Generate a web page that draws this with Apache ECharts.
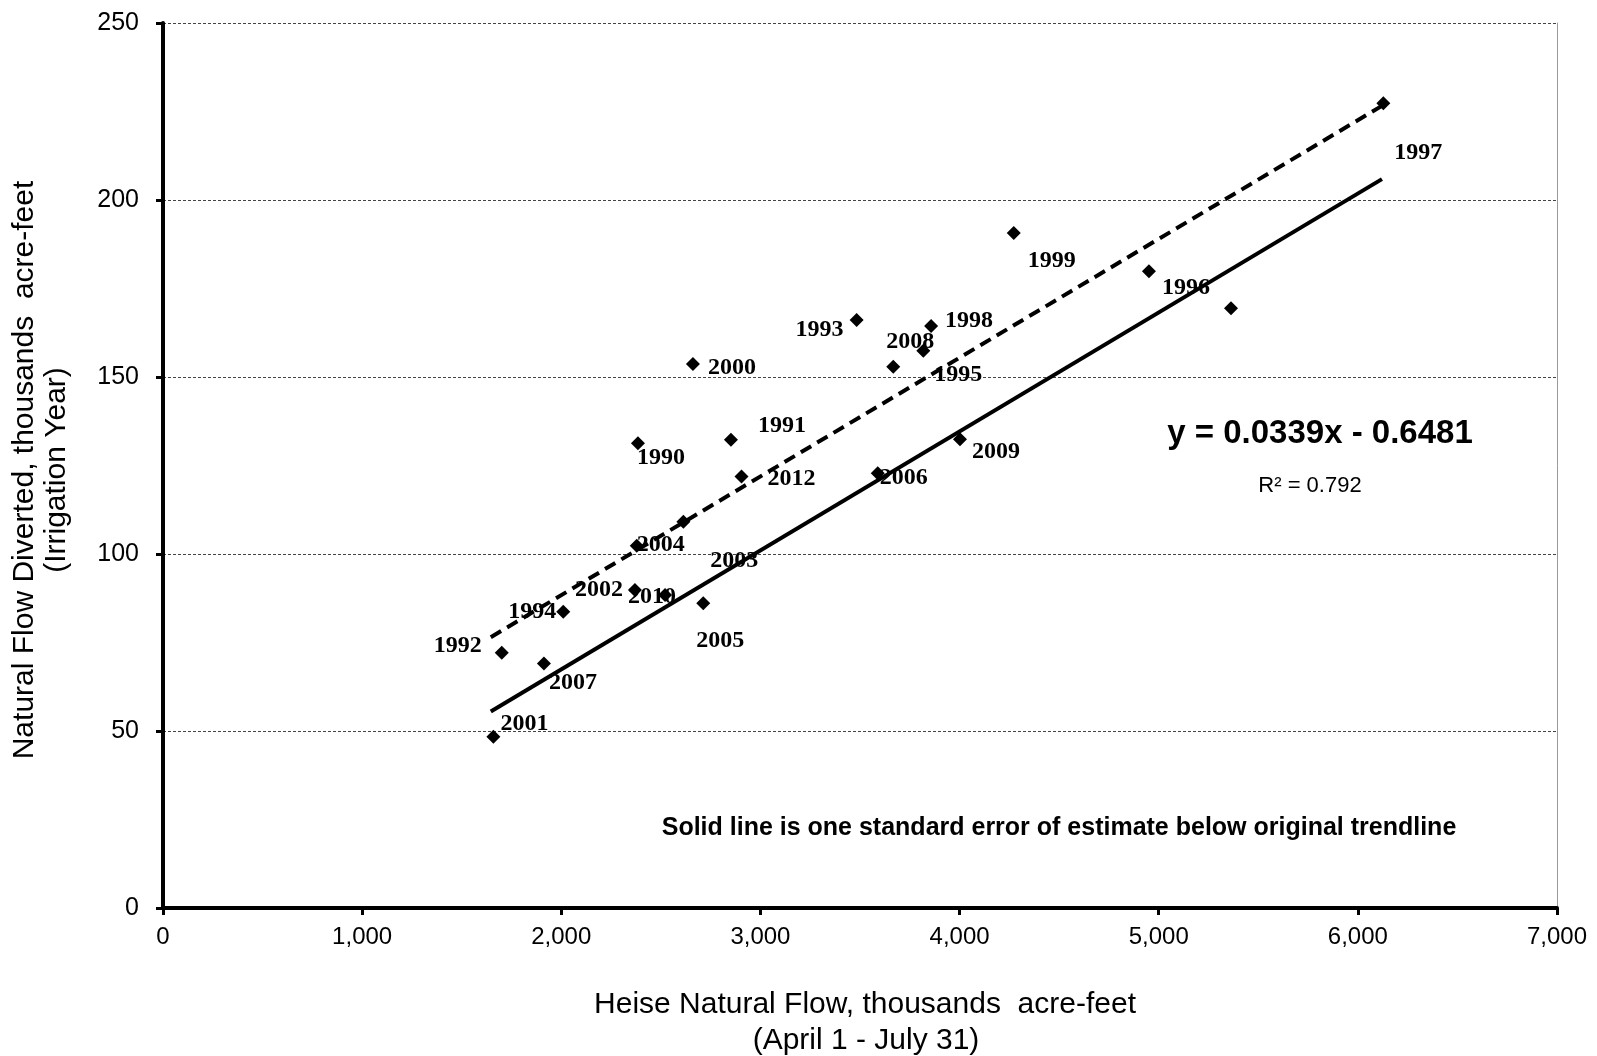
<!DOCTYPE html>
<html>
<head>
<meta charset="utf-8">
<script src="https://cdn.jsdelivr.net/npm/echarts@6/dist/echarts.min.js"></script>
<style>
html,body{margin:0;padding:0;background:#fff;}
#chart{width:1597px;height:1056px;}
</style>
</head>
<body>
<div id="chart"></div>
<script>
// ---- data ----
const years = [1990,1991,1992,1993,1994,1995,1996,1997,1998,1999,2000,2001,2002,2003,2004,2005,2006,2007,2008,2009,2010,2011,2012];
const heiseFlow = [2385,2852,1701,3483,2010,3818,4951,6128,3857,4272,2661,1659,2370,2613,2379,2713,3589,1913,3667,4002,2521,5363,2905];
const flowDiverted = [131.3,132.3,72.1,166.1,83.7,157.4,179.9,227.3,164.4,190.7,153.7,48.4,89.8,109.1,102.3,86.1,122.8,69.1,152.9,132.4,88.4,169.4,121.9];
// trend lines (read endpoints)
const trendOrigX = [1646, 6127];
const trendOrigY = [76.5, 226.8];
const trendLowX = [1646, 6121];
const trendLowY = [55.5, 205.9];
// axis ticks
const xTicks = [0,1000,2000,3000,4000,5000,6000,7000];
const yTicks = [0,50,100,150,200,250];
// year labels that are hidden
const unlabeledYears = [2011];

// ---- label nudges (layout only, pixels) ----
const labelNudge = {
  1990:[23,15],1991:[51,-14],1992:[-44,-7],1993:[-37,10],1994:[-31,0],1995:[35,24],
  1996:[37,17],1997:[35,49],1998:[38,-5],1999:[38,28],2000:[39,4],2001:[31,-13],
  2002:[-36,0],2003:[51,39],2004:[24,-1],2005:[17,38],2006:[26,5],2007:[29,19],
  2008:[17,-25],2009:[36,12],2010:[-13,2],2012:[50,2]
};

const chart = echarts.init(document.getElementById('chart'), null, {renderer:'canvas'});

const pts = years.map((yr,i)=>{
  const hidden = unlabeledYears.indexOf(yr) >= 0;
  return {
    name: String(yr),
    value: [heiseFlow[i], flowDiverted[i]],
    label: hidden ? {show:false} : {show:true}
  };
});

const fmt = v => v >= 1000 ? (Math.floor(v/1000) + ',' + String(v%1000).padStart(3,'0')) : String(v);
const SANS = 'Liberation Sans, Arial, sans-serif';

const option = {
  backgroundColor:'#fff',
  animation:false,
  grid:{left:163, right:40, top:23, bottom:148, containLabel:false},
  xAxis:{
    type:'value', min:xTicks[0], max:xTicks[xTicks.length-1], interval:xTicks[1]-xTicks[0],
    axisLine:{show:true, onZero:false, lineStyle:{color:'#000', width:4}},
    axisTick:{show:true, length:7, lineStyle:{color:'#000', width:3}},
    axisLabel:{fontSize:24, color:'#000', margin:17, fontFamily:SANS, formatter:fmt},
    splitLine:{show:false}
  },
  yAxis:[{
    type:'value', min:yTicks[0], max:yTicks[yTicks.length-1], interval:yTicks[1]-yTicks[0],
    axisLine:{show:true, onZero:false, lineStyle:{color:'#000', width:4}},
    axisTick:{show:true, length:7, lineStyle:{color:'#000', width:3}},
    axisLabel:{fontSize:25, color:'#000', margin:24, fontFamily:SANS},
    splitLine:{show:true, lineStyle:{color:'#444', width:1, type:[3,2]}}
  },{
    type:'value', position:'right', min:yTicks[0], max:yTicks[yTicks.length-1], interval:yTicks[1]-yTicks[0],
    axisLine:{show:true, onZero:false, lineStyle:{color:'#999', width:1}},
    axisTick:{show:false}, axisLabel:{show:false}, splitLine:{show:false}
  }],
  series:[
    {
      type:'line', name:'original trendline',
      data: trendOrigX.map((x,i)=>[x, trendOrigY[i]]),
      symbol:'none', lineStyle:{color:'#000', width:4, type:[12,7]}, z:2, silent:true
    },
    {
      type:'line', name:'one standard error below',
      data: trendLowX.map((x,i)=>[x, trendLowY[i]]),
      symbol:'none', lineStyle:{color:'#000', width:4, type:'solid'}, z:2, silent:true
    },
    {
      type:'scatter', name:'years',
      data: pts,
      symbol:'diamond', symbolSize:14,
      itemStyle:{color:'#000', opacity:1},
      label:{
        show:true, position:'inside', align:'center', verticalAlign:'middle',
        formatter: p => p.name,
        fontFamily:'Liberation Serif, Times New Roman, serif', fontWeight:'bold', fontSize:24, color:'#000',
        textBorderWidth:0, opacity:1
      },
      labelLayout: function(params){
        const yr = years[params.dataIndex];
        const n = labelNudge[yr] || [0,0];
        return {dx:n[0], dy:n[1], hideOverlap:false};
      },
      z:3
    }
  ],
  graphic:[
    {type:'text', x:25, y:470, rotation:Math.PI/2,
     style:{text:'Natural Flow Diverted, thousands  acre-feet', fontSize:30, fontFamily:SANS, fill:'#000', textAlign:'center', textVerticalAlign:'middle'}},
    {type:'text', x:57, y:470, rotation:Math.PI/2,
     style:{text:'(Irrigation Year)', fontSize:30, fontFamily:SANS, fill:'#000', textAlign:'center', textVerticalAlign:'middle'}},
    {type:'text', x:865, y:1005,
     style:{text:'Heise Natural Flow, thousands  acre-feet', fontSize:30, fontFamily:SANS, fill:'#000', textAlign:'center', textVerticalAlign:'middle'}},
    {type:'text', x:866, y:1041,
     style:{text:'(April 1 - July 31)', fontSize:30, fontFamily:SANS, fill:'#000', textAlign:'center', textVerticalAlign:'middle'}},
    {type:'text', x:1320, y:434,
     style:{text:'y = 0.0339x - 0.6481', fontSize:33, fontWeight:'bold', fontFamily:SANS, fill:'#000', textAlign:'center', textVerticalAlign:'middle'}},
    {type:'text', x:1310, y:486,
     style:{text:'R² = 0.792', fontSize:22, fontFamily:SANS, fill:'#000', textAlign:'center', textVerticalAlign:'middle'}},
    {type:'text', x:1059, y:828,
     style:{text:'Solid line is one standard error of estimate below original trendline', fontSize:25, fontWeight:'bold', fontFamily:SANS, fill:'#000', textAlign:'center', textVerticalAlign:'middle'}}
  ]
};
chart.setOption(option);
</script>
</body>
</html>
